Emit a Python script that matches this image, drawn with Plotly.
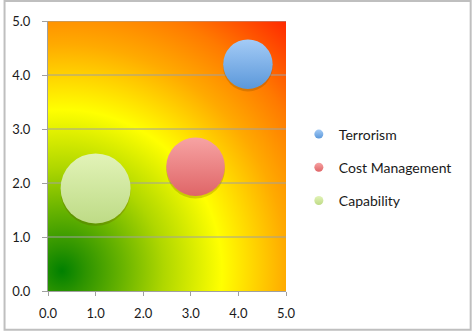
import base64
import plotly.graph_objects as go

# ---- data ----
series_names = ["Terrorism", "Cost Management", "Capability"]
x_values = [4.2, 3.1, 1.0]
y_values = [4.2, 2.3, 1.9]
bubble_sizes = [5, 7, 10]
tick_values = [0, 1, 2, 3, 4, 5]
tick_labels = ["0.0", "1.0", "2.0", "3.0", "4.0", "5.0"]

# ---- styles ----
top_colors = ["#A4CBF6", "#F7A3A3", "#E2F3B8"]
bottom_colors = ["#5B98DA", "#DF6567", "#BEDB86"]
FONT = "Lato"

W, H = 474, 333
ML, MR, MT, MB = 45, 188, 21, 41
PW, PH = W - ML - MR, H - MT - MB

# gradient background as an SVG radial gradient
svg = f'''<svg xmlns="http://www.w3.org/2000/svg" width="{PW}" height="{PH}" viewBox="0 0 {PW} {PH}" preserveAspectRatio="none">
<defs><radialGradient id="g" gradientUnits="userSpaceOnUse" cx="14" cy="{PH-20}" r="345">
<stop offset="0" stop-color="rgb(0,128,0)"/>
<stop offset="0.07" stop-color="rgb(45,148,0)"/>
<stop offset="0.18" stop-color="rgb(105,180,0)"/>
<stop offset="0.3" stop-color="rgb(175,215,0)"/>
<stop offset="0.47" stop-color="rgb(255,255,0)"/>
<stop offset="0.66" stop-color="rgb(255,170,0)"/>
<stop offset="0.8" stop-color="rgb(255,122,0)"/>
<stop offset="1" stop-color="rgb(255,32,0)"/>
</radialGradient></defs>
<rect x="0" y="0" width="{PW}" height="{PH}" fill="url(#g)"/></svg>'''
src = "data:image/svg+xml;base64," + base64.b64encode(svg.encode()).decode()

fig = go.Figure()

# gridlines drawn as traces so they sit above the background image and below bubbles
for t in tick_values[1:]:
    fig.add_trace(go.Scatter(x=[tick_values[0], tick_values[-1]], y=[t, t], mode="lines",
                             line=dict(color="#A0A0A0", width=1), showlegend=False,
                             hoverinfo="skip"))

max_size = max(bubble_sizes)
sizeref = (max_size / 2) / (35 ** 2)
shadow_dy = 0.045
for i, name in enumerate(series_names):
    # soft shadow
    fig.add_trace(go.Scatter(
        x=[x_values[i]], y=[y_values[i] - shadow_dy], mode="markers", showlegend=False,
        hoverinfo="skip",
        marker=dict(size=[bubble_sizes[i]], sizemode="area", sizeref=sizeref,
                    color="rgba(90,60,0,0.22)", line=dict(width=0), opacity=1),
    ))
    fig.add_trace(go.Scatter(
        x=[x_values[i]], y=[y_values[i]], mode="markers", name=name, showlegend=False,
        marker=dict(size=[bubble_sizes[i]], sizemode="area", sizeref=sizeref,
                    color=top_colors[i], line=dict(width=0), opacity=1,
                    gradient=dict(type="vertical", color=bottom_colors[i])),
    ))
    fig.add_trace(go.Scatter(
        x=[None], y=[None], mode="markers", name=name, legendgroup=name,
        marker=dict(size=9, color=top_colors[i], line=dict(width=0), opacity=1,
                    gradient=dict(type="vertical", color=bottom_colors[i])),
    ))

axis_common = dict(range=[0, 5], tickvals=tick_values, ticktext=tick_labels,
                   showgrid=False, zeroline=False, showline=True, linecolor="#A0A0A0",
                   linewidth=1, ticks="outside", tickcolor="#A0A0A0",
                   tickfont=dict(family=FONT, size=13, color="#1a1a1a"), fixedrange=True)

fig.update_layout(
    width=W, height=H,
    margin=dict(l=ML, r=MR, t=MT, b=MB),
    paper_bgcolor="white", plot_bgcolor="white",
    font=dict(family=FONT, size=14, color="#1a1a1a"),
    xaxis=dict(**axis_common, ticklen=4, ticklabelstandoff=6),
    yaxis=dict(**axis_common, ticklen=5, ticklabelstandoff=9),
    images=[dict(source=src, xref="x", yref="y", x=0, y=5, sizex=5, sizey=5,
                 sizing="stretch", layer="below")],
    legend=dict(x=(299 - ML) / PW, xanchor="left", y=(H - MB - 168) / PH, yanchor="middle",
                font=dict(family=FONT, size=14, color="#1a1a1a"),
                traceorder="grouped", tracegroupgap=12, bgcolor="rgba(0,0,0,0)"),
    shapes=[dict(type="rect", xref="paper", yref="paper",
                 x0=(1 - ML) / PW, x1=(473 - ML) / PW,
                 y0=(H - MB - 331) / PH, y1=(H - MB - 1) / PH,
                 line=dict(color="#BFBFBF", width=2), layer="above")],
)

fig.write_html("out.html")
